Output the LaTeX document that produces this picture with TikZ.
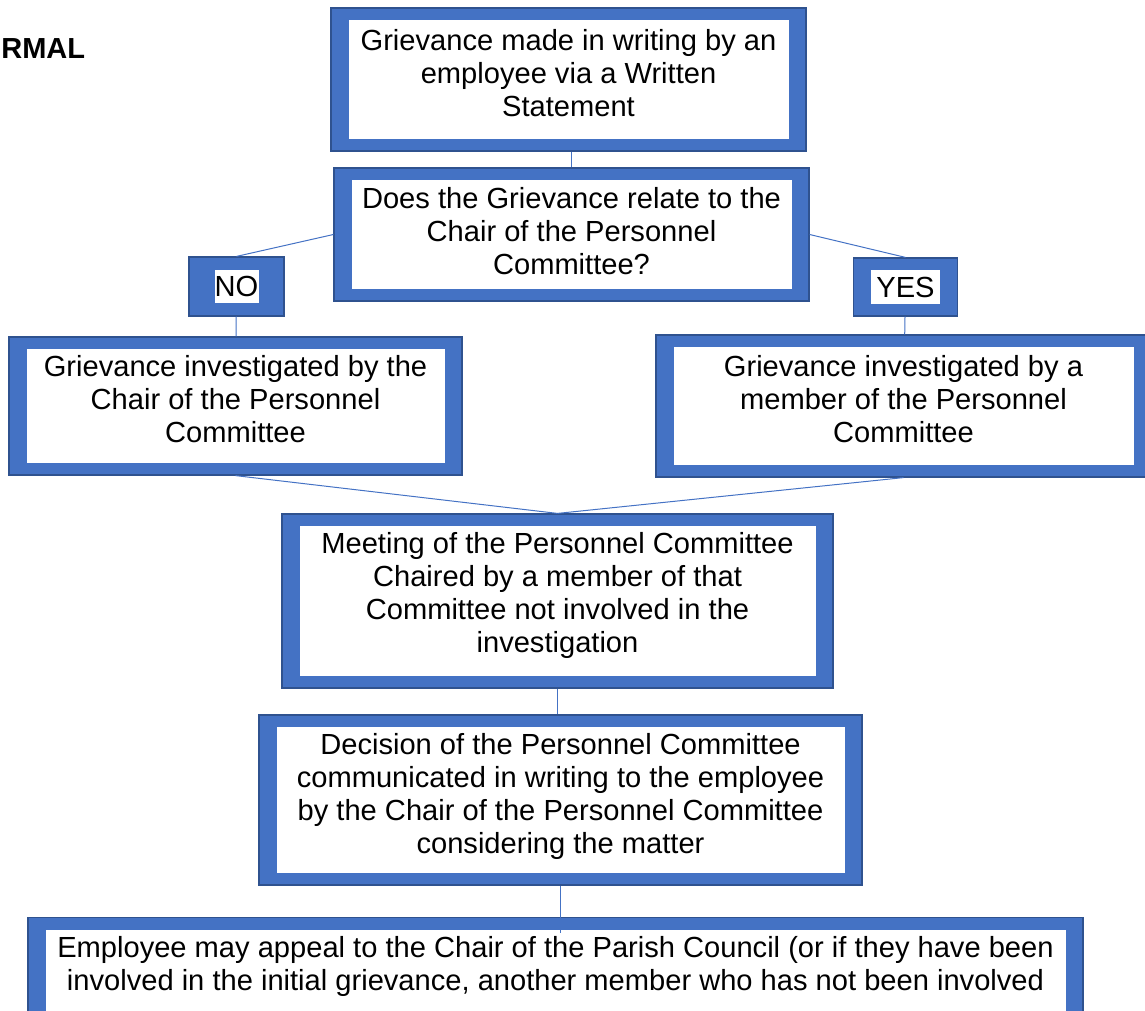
\documentclass[tikz,border=0pt]{standalone}
\usepackage{fontspec}
\setmainfont{Liberation Sans}
\newcommand{\boxfont}{\fontsize{14.55}{16.5}\selectfont}
\definecolor{boxblue}{HTML}{4472C4}
\definecolor{boxedge}{HTML}{2F528F}
\tikzset{
	framed/.style n args={2}{rectangle, fill=boxblue, draw=boxedge, line width=0.6pt,
		inner sep=0pt, align=center, font=\boxfont,
		path picture={\fill[white] ([shift={(#1,-#2)}]path picture bounding box.north west)
			rectangle ([shift={(-#1,#2)}]path picture bounding box.south east);}},
	stepbox/.style={framed={8.75pt}{6pt}, text depth=7pt},
	link/.style={draw=boxblue, line width=0.5pt},
}

\begin{document}
\begin{tikzpicture}[x=0.5pt, y=-0.5pt]
	\useasboundingbox (0,0) rectangle (1145,1011);
	% heading at the page edge
	\node (title) [anchor=base west, inner sep=0pt, font=\bfseries\fontsize{14.5}{17}\selectfont] at (1,59) {RMAL};
	% boxes
	\node (stmt) [stepbox, minimum width=237.5pt, minimum height=71.5pt] at (568.5,79.5)
		{Grievance made in writing by an\\employee via a Written\\Statement};
	\node (question) [stepbox, text depth=4pt, minimum width=237.5pt, minimum height=66.5pt] at (571.5,234.5)
		{Does the Grievance relate to the\\Chair of the Personnel\\Committee?};
	\node (no) [framed={12.75pt}{6.5pt}, minimum width=47.5pt, minimum height=29.5pt] at (236.5,286.5) {NO};
	\node (yes) [stepbox, text depth=0pt, minimum width=52pt, minimum height=29pt] at (905.5,287) {YES};
	\node (chair) [stepbox, minimum width=226.5pt, minimum height=69pt] at (235.5,406)
		{Grievance investigated by the\\Chair of the Personnel\\Committee};
	\node (member) [stepbox, minimum width=247.5pt, minimum height=71pt] at (903.5,406)
		{Grievance investigated by a\\member of the Personnel\\Committee};
	\node (meeting) [stepbox, text depth=9pt, minimum width=275.5pt, minimum height=87pt] at (557.5,601)
		{Meeting of the Personnel Committee\\Chaired by a member of that\\Committee not involved in the\\investigation};
	\node (decision) [stepbox, minimum width=301.5pt, minimum height=85pt] at (560.5,800)
		{Decision of the Personnel Committee\\communicated in writing to the employee\\by the Chair of the Personnel Committee\\considering the matter};
	\node (appeal) [stepbox, anchor=north, minimum width=527.5pt, inner ysep=9.5pt, text depth=40pt] at (555.5,917)
		{Employee may appeal to the Chair of the Parish Council (or if they have been\\involved in the initial grievance, another member who has not been involved};
	% connectors
	\draw[link] (question.north) -- (question.north |- stmt.south);
	\draw[link] (question.west) -- (no.north);
	\draw[link] (question.east) -- (yes.north);
	\draw[link] (no) -- (chair);
	\draw[link] (yes) -- (member);
	\draw[link] (chair.south) -- (meeting.north);
	\draw[link] (member.south) -- (meeting.north);
	\draw[link] (meeting.south) -- (meeting.south |- decision.north);
	\draw[link] (decision.south) -- ([yshift=-8pt]decision.south |- appeal.north);
\end{tikzpicture}
\end{document}
